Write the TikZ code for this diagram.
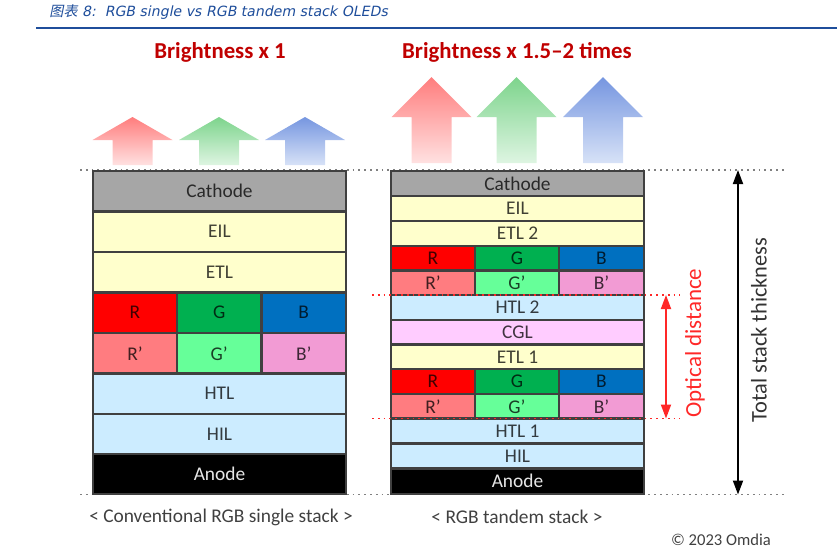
\documentclass[tikz,border=0pt]{standalone}
\usepackage{fontspec}
\setmainfont{Carlito}
\newfontfamily\titlefont[FakeSlant=0.2]{DejaVu Sans}
\newfontfamily\cjkfont[FakeSlant=0.2]{Noto Sans CJK SC}
\usetikzlibrary{arrows.meta}
\definecolor{titleblue}{RGB}{31,78,155}
\definecolor{darkred}{RGB}{192,0,0}
\definecolor{cathgray}{RGB}{166,166,166}
\definecolor{ylw}{RGB}{255,255,204}
\definecolor{lblue}{RGB}{204,236,255}
\definecolor{cglpink}{RGB}{255,204,255}
\definecolor{rr}{RGB}{255,0,0}
\definecolor{gg}{RGB}{0,176,80}
\definecolor{bb}{RGB}{0,112,192}
\definecolor{rp}{RGB}{255,124,128}
\definecolor{gp}{RGB}{102,255,153}
\definecolor{bp}{RGB}{242,155,212}
\definecolor{bord}{RGB}{64,64,64}
\definecolor{optred}{RGB}{255,40,40}
\definecolor{arR1}{RGB}{255,125,125}
\definecolor{arR2}{RGB}{255,225,225}
\definecolor{arG1}{RGB}{125,212,140}
\definecolor{arG2}{RGB}{222,245,226}
\definecolor{arB1}{RGB}{118,150,224}
\definecolor{arB2}{RGB}{215,226,247}
\tikzset{
  layer/.style={draw=bord, line width=1.2pt, inner sep=0pt, outer sep=0pt, text=black, text opacity=0.75, font=\fontsize{9.7}{11}\selectfont},
  caption/.style={text=bord, font=\fontsize{9.7}{11}\selectfont},
  bright/.style={text=darkred, font=\fontsize{11.4}{13}\selectfont\bfseries},
  dotline/.style={draw=gray, dotted, line width=0.9pt},
  reddot/.style={draw=optred, dotted, line width=0.9pt},
}
\newcommand\lay[7]{\node[layer, fill=#6, minimum width={(#4-#2)*0.5pt}, minimum height={(#5-#3)*0.5pt}] (#1) at ({(#2+#4)/2},{(#3+#5)/2}) {#7};}
% block arrow: cx, apex, headbase, bottom, topcolor, bottomcolor
\newcommand\barrow[6]{\shade[top color=#5, bottom color=#6] (#1-20,#4) -- (#1-20,#3) -- (#1-40,#3) -- (#1,#2) -- (#1+40,#3) -- (#1+20,#3) -- (#1+20,#4) -- cycle;}
\begin{document}
\begin{tikzpicture}[x=0.5pt,y=-0.5pt]
\useasboundingbox (0,0) rectangle (837,554);
% title
\node[anchor=west, text=titleblue, inner sep=0pt] (title) at (49,12) {\fontsize{7.05}{9}\selectfont\cjkfont 图表\titlefont{} 8:\ \ RGB single vs RGB tandem stack OLEDs};
\draw[titleblue, line width=1.1pt] (36,28) -- (837,28);
% brightness labels
\node[bright] (b1) at (220,52) {Brightness x 1};
\node[bright] (b2) at (517,52) {Brightness x 1.5–2 times};
% arrows left
\barrow{132.5}{117}{140}{165}{arR1}{arR2}
\barrow{219}{117}{140}{165}{arG1}{arG2}
\barrow{305}{117}{140}{165}{arB1}{arB2}
% arrows right
\barrow{431.5}{77}{117}{163}{arR1}{arR2}
\barrow{516.5}{77}{117}{163}{arG1}{arG2}
\barrow{603}{77}{117}{163}{arB1}{arB2}
% dotted lines
\coordinate (tl) at (80,170); \coordinate (tr) at (787,170);
\coordinate (bl) at (80,494.5); \coordinate (br) at (787,494.5);
\draw[dotline] (tl) -- (tr);
\draw[dotline] (bl) -- (br);
% left stack
\lay{lcat}{93}{171}{346}{211.5}{cathgray}{Cathode}
\lay{leil}{93}{211.5}{346}{252}{ylw}{EIL}
\lay{letl}{93}{252}{346}{292.5}{ylw}{ETL}
\lay{lr}{93}{292.5}{177}{333}{rr}{R}
\lay{lg}{177}{292.5}{261.5}{333}{gg}{G}
\lay{lb}{261.5}{292.5}{346}{333}{bb}{B}
\lay{lrp}{93}{333}{177}{373.5}{rp}{R’}
\lay{lgp}{177}{333}{261.5}{373.5}{gp}{G’}
\lay{lbp}{261.5}{333}{346}{373.5}{bp}{B’}
\lay{lhtl}{93}{373.5}{346}{414}{lblue}{HTL}
\lay{lhil}{93}{414}{346}{454}{lblue}{HIL}
\node[layer, fill=black, text=white, text opacity=0.9, minimum width={253*0.5pt}, minimum height={40*0.5pt}] (lano) at (219.5,474) {Anode};
% right stack
\lay{rcat}{391}{171}{644}{196}{cathgray}{Cathode}
\lay{reil}{391}{196}{644}{221}{ylw}{EIL}
\lay{retl2}{391}{221}{644}{246}{ylw}{ETL 2}
\lay{rr2}{391}{246}{475}{270.5}{rr}{R}
\lay{rg2}{475}{246}{559}{270.5}{gg}{G}
\lay{rb2}{559}{246}{644}{270.5}{bb}{B}
\lay{rrp2}{391}{270.5}{475}{295}{rp}{R’}
\lay{rgp2}{475}{270.5}{559}{295}{gp}{G’}
\lay{rbp2}{559}{270.5}{644}{295}{bp}{B’}
\lay{rhtl2}{391}{295}{644}{320}{lblue}{HTL 2}
\lay{rcgl}{391}{320}{644}{344.5}{cglpink}{CGL}
\lay{retl1}{391}{344.5}{644}{369}{ylw}{ETL 1}
\lay{rr1}{391}{369}{475}{394}{rr}{R}
\lay{rg1}{475}{369}{559}{394}{gg}{G}
\lay{rb1}{559}{369}{644}{394}{bb}{B}
\lay{rrp1}{391}{394}{475}{418.5}{rp}{R’}
\lay{rgp1}{475}{394}{559}{418.5}{gp}{G’}
\lay{rbp1}{559}{394}{644}{418.5}{bp}{B’}
\lay{rhtl1}{391}{418.5}{644}{443.5}{lblue}{HTL 1}
\lay{rhil}{391}{443.5}{644}{468.5}{lblue}{HIL}
\node[layer, fill=black, text=white, text opacity=0.9, minimum width={253*0.5pt}, minimum height={25.5*0.5pt}] (rano) at (517.5,481.25) {Anode};
% optical distance
\coordinate (o1l) at (372,295); \coordinate (o1r) at (680,295);
\coordinate (o2l) at (372,418.5); \coordinate (o2r) at (680,418.5);
\draw[reddot] (o1l) -- (o1r);
\draw[reddot] (o2l) -- (o2r);
\coordinate (oa) at (666,295); \coordinate (ob) at (666,418.5);
\draw[optred, line width=0.9pt, {Triangle[length=7pt,width=5pt]}-{Triangle[length=7pt,width=5pt]}] (oa) -- (ob);
\node[rotate=90, text=optred, font=\fontsize{11.5}{13}\selectfont] (optl) at (695,343) {Optical distance};
% total stack
\coordinate (ta) at (738,170); \coordinate (tb) at (738,494.5);
\draw[black, line width=0.9pt, {Triangle[length=7pt,width=5pt]}-{Triangle[length=7pt,width=5pt]}] (ta) -- (tb);
\node[rotate=90, text=black!80, font=\fontsize{11.2}{13}\selectfont] (totl) at (759,330) {Total stack thickness};
% captions
\node[caption] (c1) at (221,517) {< Conventional RGB single stack >};
\node[caption] (c2) at (517,517) {< RGB tandem stack >};
\node[text=bord, font=\fontsize{8.3}{10}\selectfont] (om) at (721,540) {© 2023 Omdia};
\end{tikzpicture}
\end{document}
